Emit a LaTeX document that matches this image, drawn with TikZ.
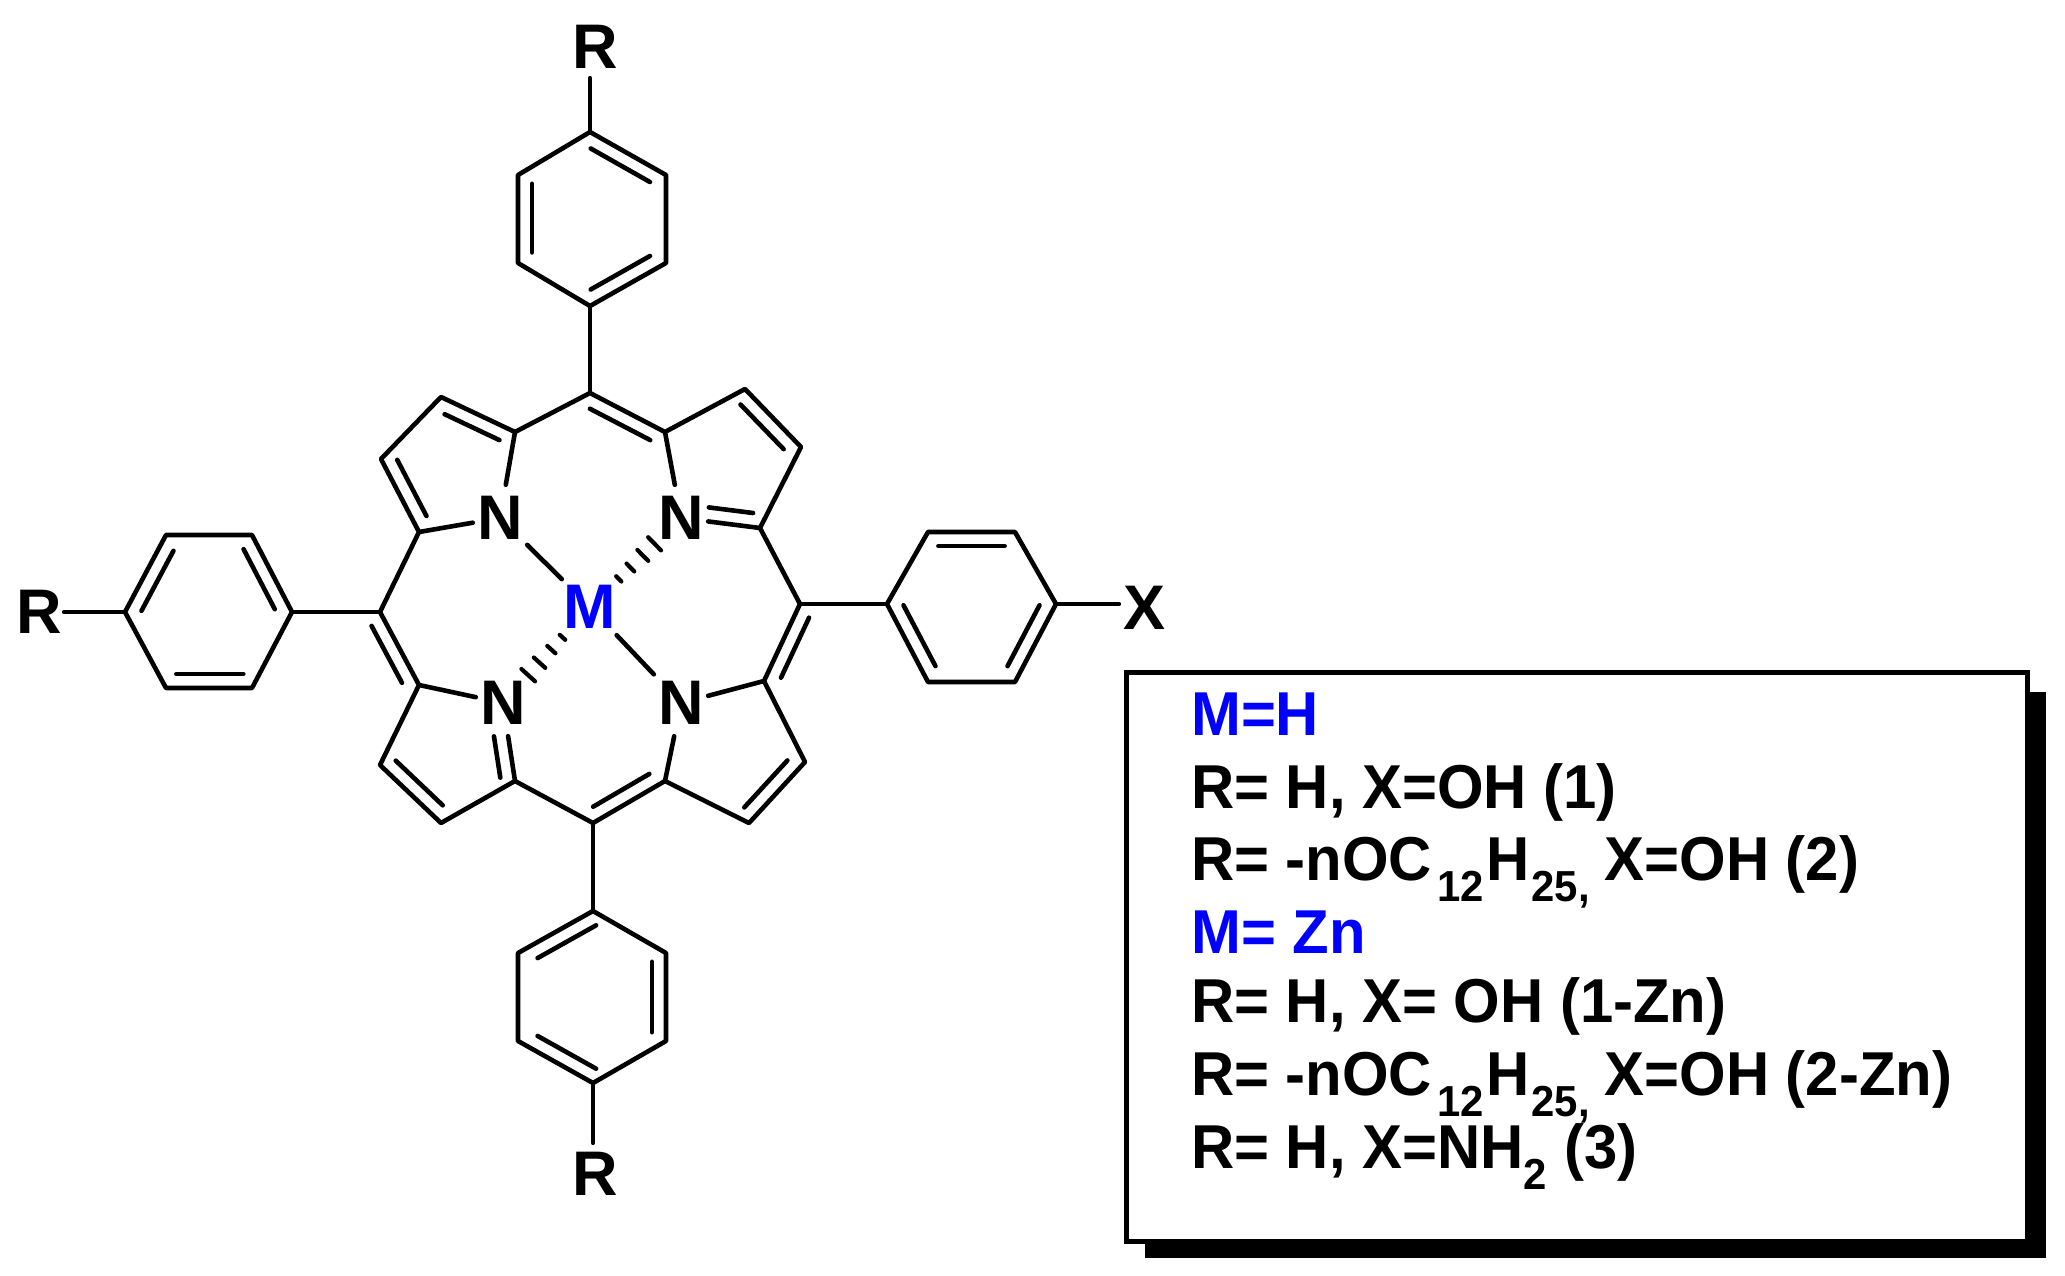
\documentclass[tikz,border=0pt]{standalone}
\usepackage{fontspec}
\setmainfont{Liberation Sans}[BoldFont={Liberation Sans Bold}]
\newfontfamily\legfont[FakeStretch=0.965]{Liberation Sans Bold}
\usetikzlibrary{calc}
\definecolor{mblue}{RGB}{0,0,255}
\newcommand{\dbl}[5]{\draw[bond] ($(#1)!#3!(#2)!#5pt!90:(#2)$) -- ($(#1)!#4!(#2)!#5pt!90:(#2)$);}
\newcommand{\hashb}[2]{\foreach \t/\l in {.316/3.7,.444/5.5,.58/7.7,.71/9.2}{\draw[bond,line width=4.2pt] ($(#1)!\t!(#2)!\l pt!90:(#2)$) -- ($(#1)!\t!(#2)!\l pt!-90:(#2)$);}}
\newcommand{\lbl}{\fontsize{63}{70}\selectfont\bfseries}
\newcommand{\alkyl}{C\kern5pt\textsubscript{12}\kern2ptH\kern2pt\textsubscript{25,}\kern-2pt}
\tikzset{
  bond/.style={line width=4.6pt,line cap=round,line join=round,black},
  natom/.style={font=\lbl,inner sep=0pt,minimum width=54pt,minimum height=66pt,text=black},
  matom/.style={font=\lbl,inner sep=0pt,minimum width=56pt,minimum height=56pt,text=mblue},
  sub/.style={font=\lbl,inner sep=0pt,minimum width=50pt,minimum height=62pt,text=black},
  legend/.style={font=\fontsize{62}{70}\legfont,inner sep=0pt,anchor=base west,text=black},
  legendm/.style={legend,text=mblue},
}
\begin{document}
\begin{tikzpicture}[x=1pt,y=-1pt]
\useasboundingbox (0,0) rectangle (2065,1276);
% porphyrin skeleton atoms
\coordinate (mt) at (590,393);
\coordinate (atl) at (515,432);
\coordinate (atr) at (665,432);
\coordinate (btl1) at (441,397);
\coordinate (btl2) at (381,459);
\coordinate (alt) at (419,532);
\coordinate (ml) at (380,612);
\coordinate (alb) at (419,685);
\coordinate (bbl1) at (380,765);
\coordinate (bbl2) at (441,823);
\coordinate (abl) at (515,781);
\coordinate (mb) at (593,823);
\coordinate (abr) at (665,781);
\coordinate (bbr2) at (749,823);
\coordinate (bbr1) at (805,762);
\coordinate (arb) at (764,681);
\coordinate (mr) at (800,604);
\coordinate (art) at (760,528);
\coordinate (btr2) at (801,447);
\coordinate (btr1) at (745,389);
\node[natom] (ntl) at (500,518) {N};
\node[natom] (ntr) at (681,518) {N};
\node[natom] (nbl) at (503,703) {N};
\node[natom] (nbr) at (681,703) {N};
\node[matom] (M) at (590,607) {M};
% skeleton bonds
\draw[bond] (ntl) -- (atl) -- (btl1) -- (btl2) -- (alt) -- (ntl);
\draw[bond] (atl) -- (mt) -- (atr) -- (btr1) -- (btr2) -- (art) -- (ntr) -- (atr);
\draw[bond] (alt) -- (ml) -- (alb) -- (nbl);
\draw[bond] (alb) -- (bbl1) -- (bbl2) -- (abl) -- (nbl);
\draw[bond] (abl) -- (mb) -- (abr) -- (nbr);
\draw[bond] (abr) -- (bbr2) -- (bbr1) -- (arb) -- (nbr);
\draw[bond] (arb) -- (mr) -- (art);
\draw[bond] (ntl) -- (M);
\draw[bond] (nbr) -- (M);
\hashb{M}{ntr}
\hashb{M}{nbl}
% inner double-bond lines
\dbl{mt}{atr}{.085}{.89}{-14}
\dbl{btl1}{atl}{.13}{.87}{-14}
\dbl{btr1}{btr2}{.1}{.87}{-14}
\dbl{btl2}{alt}{.1}{.87}{14}
\dbl{ml}{alb}{.1}{.88}{-14}
\dbl{mr}{arb}{.1}{.88}{14}
\dbl{bbl1}{bbl2}{.1}{.87}{14}
\dbl{bbr2}{bbr1}{.1}{.87}{14}
\dbl{mb}{abr}{.1}{.88}{14}
\dbl{abl}{nbl}{.07}{.6}{14}
\dbl{art}{ntr}{.11}{.67}{-14}
% top phenyl
\coordinate (t1) at (590,132);
\coordinate (t2) at (518,175);
\coordinate (t3) at (518,263);
\coordinate (t4) at (590,306);
\coordinate (t5) at (666,263);
\coordinate (t6) at (666,175);
\node[sub] (Rt) at (595,47) {R};
\draw[bond] (t1) -- (t2) -- (t3) -- (t4) -- (t5) -- (t6) -- cycle;
\draw[bond] (t1|-Rt.south) -- (t1);
\draw[bond] (t4) -- (mt);
\dbl{t1}{t6}{.1}{.88}{-14}
\dbl{t2}{t3}{.1}{.88}{14}
\dbl{t4}{t5}{.1}{.88}{14}
% left phenyl
\coordinate (l1) at (125,612);
\coordinate (l2) at (166,535);
\coordinate (l3) at (252,535);
\coordinate (l4) at (292,612);
\coordinate (l5) at (252,688);
\coordinate (l6) at (166,688);
\node[sub] (Rl) at (39,612) {R};
\draw[bond] (l1) -- (l2) -- (l3) -- (l4) -- (l5) -- (l6) -- cycle;
\draw[bond] (Rl) -- (l1);
\draw[bond] (l4) -- (ml);
\dbl{l1}{l2}{.1}{.88}{-14}
\dbl{l3}{l4}{.1}{.88}{-14}
\dbl{l5}{l6}{.1}{.88}{-14}
% right phenyl
\coordinate (r1) at (887,604);
\coordinate (r2) at (928,532);
\coordinate (r3) at (1015,532);
\coordinate (r4) at (1056,604);
\coordinate (r5) at (1015,682);
\coordinate (r6) at (928,682);
\node[sub] (X) at (1144,608) {X};
\draw[bond] (r1) -- (r2) -- (r3) -- (r4) -- (r5) -- (r6) -- cycle;
\draw[bond] (r4) -- (r4-|X.west);
\draw[bond] (r1) -- (mr);
\dbl{r2}{r3}{.12}{.88}{-14}
\dbl{r4}{r5}{.1}{.88}{-14}
\dbl{r6}{r1}{.12}{.9}{-14}
% bottom phenyl
\coordinate (b1) at (593,911);
\coordinate (b2) at (518,953);
\coordinate (b3) at (518,1041);
\coordinate (b4) at (593,1083);
\coordinate (b5) at (666,1041);
\coordinate (b6) at (666,953);
\node[sub] (Rb) at (595,1174) {R};
\draw[bond] (b1) -- (b2) -- (b3) -- (b4) -- (b5) -- (b6) -- cycle;
\draw[bond] (b4) -- (b4|-Rb.north);
\draw[bond] (b1) -- (mb);
\dbl{b1}{b2}{.05}{.83}{14}
\dbl{b3}{b4}{.17}{.95}{14}
\dbl{b5}{b6}{.1}{.9}{14}
% legend box
\coordinate (sa) at (1145,692);
\coordinate (sb) at (2046,1258);
\fill[black] (sa) rectangle (sb);
\node[draw=black,fill=white,line width=5pt,inner sep=0pt,minimum width=901pt,minimum height=569pt,anchor=north west] (box) at (1124,670) {};
\node[legendm] (l1a) at (1191,735) {M=H};
\node[legend] (l2a) at (1191,808) {R= H, X=OH (1)};
\node[legend] (l3a) at (1191,880) {R= -nO\alkyl{} X=OH (2)};
\node[legendm] (l4a) at (1191,953) {M= Zn};
\node[legend] (l5a) at (1191,1022) {R= H, X= OH (1-Zn)};
\node[legend] (l6a) at (1191,1095) {R= -nO\alkyl{} X=OH (2-Zn)};
\node[legend] (l7a) at (1191,1168) {R= H, X=NH\textsubscript{2} (3)};
\end{tikzpicture}
\end{document}
